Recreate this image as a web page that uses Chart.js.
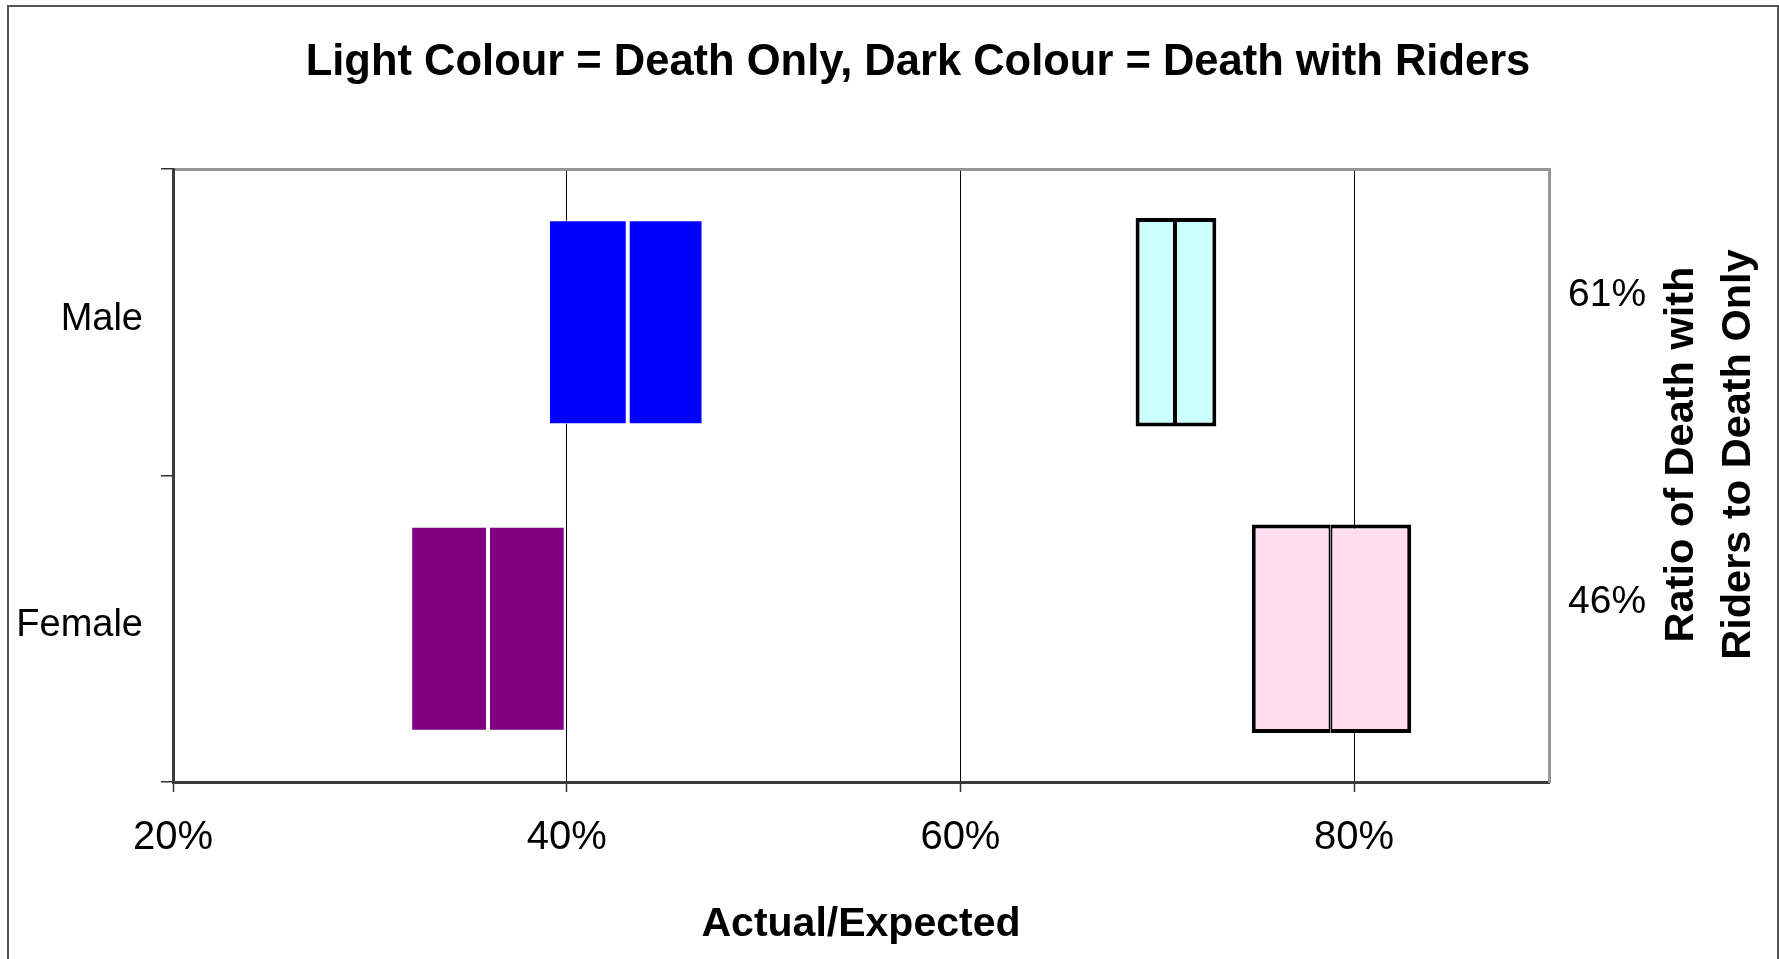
<!DOCTYPE html>
<html>
<head>
<meta charset="utf-8">
<title>Actual/Expected – Death Only vs Death with Riders</title>
<script src="https://cdn.jsdelivr.net/npm/chart.js@4.4.0/dist/chart.umd.min.js"></script>
<style>
  html, body { margin: 0; padding: 0; background: #fff; }
  #wrap { position: relative; width: 1779px; height: 959px; overflow: hidden; }
  #frame { position: absolute; left: 7px; top: 5px; width: 1772px; height: 1000px;
           border: 2px solid #555; box-sizing: border-box; }
  canvas { position: absolute; left: 0; top: 0; }
</style>
</head>
<body>
<div id="wrap">
  <div id="frame"></div>
  <canvas id="chart" width="1779" height="959"></canvas>
</div>
<script>
// Categories and interval values (Actual/Expected, %)
const categories = ['Male', 'Female'];

// Dark colour: death with riders – lower bound, central estimate, upper bound
const ridersLow  = [39.1, 32.1];
const ridersMid  = [43.1, 36.0];
const ridersHigh = [46.9, 39.9];

// Light colour: death only – lower bound, central estimate, upper bound
const onlyLow  = [68.9, 74.8];
const onlyMid  = [70.9, 78.8];
const onlyHigh = [73.0, 82.9];

// Ratio of death with riders to death only, shown on the right
const ratioLabels = ['61%', '46%'];

// Value axis
const xTickValues = [20, 40, 60, 80];
const xMin = 20;
const xMax = 89.9;

const chartTitle = 'Light Colour = Death Only, Dark Colour = Death with Riders';
const xTitle = 'Actual/Expected';
const rightTitleLines = ['Ratio of Death with', 'Riders to Death Only'];

const darkColours  = ['#0000FF', '#800080'];
const lightColours = ['#CCFFFF', '#FFDDEE'];

const FONT = "'Liberation Sans', Arial, Helvetica, sans-serif";

function span(lo, hi) { return lo.map((v, i) => [v, hi[i]]); }

const barCommon = {
  grouped: false,
  borderSkipped: false,
  categoryPercentage: 1
};

// Title and the right-hand rotated axis title
const textLayer = {
  id: 'textLayer',
  afterDraw(chart) {
    const ctx = chart.ctx;
    const area = chart.chartArea;
    ctx.save();
    ctx.fillStyle = '#000';
    ctx.textAlign = 'center';
    ctx.textBaseline = 'alphabetic';
    ctx.font = 'bold 43.5px ' + FONT;
    ctx.fillText(chartTitle, 918, 75);

    ctx.font = 'bold 41.5px ' + FONT;
    const baselines = [area.right + 144, area.right + 201];
    const midY = (area.top + area.bottom) / 2 - 21;
    rightTitleLines.forEach((line, i) => {
      ctx.save();
      ctx.translate(baselines[i], midY);
      ctx.rotate(-Math.PI / 2);
      ctx.fillText(line, 0, 0);
      ctx.restore();
    });
    ctx.restore();
  }
};

new Chart(document.getElementById('chart'), {
  type: 'bar',
  data: {
    labels: categories,
    datasets: [
      { label: 'Death with Riders (lower)', data: span(ridersLow, ridersMid),
        backgroundColor: darkColours, borderColor: '#FFFFFF', barPercentage: 0.665,
        borderWidth: { top: 1, bottom: 1, left: 1, right: 2 }, ...barCommon },
      { label: 'Death with Riders (upper)', data: span(ridersMid, ridersHigh),
        backgroundColor: darkColours, borderColor: '#FFFFFF', barPercentage: 0.665,
        borderWidth: { top: 1, bottom: 1, left: 2, right: 1 }, ...barCommon },
      { label: 'Death Only (lower)', data: span(onlyLow, onlyMid),
        backgroundColor: lightColours, borderColor: '#000000', barPercentage: 0.68,
        borderWidth: { top: 4, bottom: 4, left: 4, right: 2 }, ...barCommon },
      { label: 'Death Only (upper)', data: span(onlyMid, onlyHigh),
        backgroundColor: lightColours, borderColor: '#000000', barPercentage: 0.68,
        borderWidth: { top: 4, bottom: 4, left: 2, right: 4 }, ...barCommon }
    ]
  },
  options: {
    indexAxis: 'y',
    responsive: false,
    animation: false,
    devicePixelRatio: 1,
    layout: { padding: { top: 169, left: 0, right: 0, bottom: 0 } },
    plugins: {
      legend: { display: false },
      tooltip: { enabled: false },
      title: { display: false }
    },
    scales: {
      x: {
        type: 'linear',
        position: 'bottom',
        min: xMin,
        max: xMax,
        afterBuildTicks: (scale) => { scale.ticks = xTickValues.map(v => ({ value: v })); },
        afterFit: (scale) => { scale.height = 177; },
        grid: { color: '#000', lineWidth: 1, drawTicks: true, tickLength: 10,
                tickColor: '#333', tickWidth: 1.5 },
        border: { display: true, color: '#3a3a3a', width: 3 },
        ticks: {
          color: '#000', padding: 22,
          font: { family: FONT, size: 40, lineHeight: 1.2 },
          callback: (v) => v + '%'
        },
        title: {
          display: true, text: xTitle, color: '#000',
          font: { family: FONT, size: 41, weight: 'bold', lineHeight: 1.2 },
          padding: { top: 0, bottom: 10 }
        }
      },
      x2: {
        type: 'linear',
        axis: 'x',
        position: 'top',
        min: xMin,
        max: xMax,
        afterFit: (scale) => { scale.height = 0; },
        grid: { display: true, drawOnChartArea: false, drawTicks: false },
        border: { display: true, color: '#969696', width: 3 },
        ticks: { display: false }
      },
      y: {
        type: 'category',
        position: 'left',
        offset: true,
        afterFit: (scale) => { scale.width = 173; },
        grid: { offset: true, drawOnChartArea: false, drawTicks: true, tickLength: 12,
                color: '#333', lineWidth: 1.5 },
        border: { display: true, color: '#3a3a3a', width: 3 },
        ticks: {
          color: '#000', padding: 18, labelOffset: -3,
          font: { family: FONT, size: 38, lineHeight: 1.2 }
        }
      },
      y2: {
        type: 'category',
        axis: 'y',
        position: 'right',
        labels: ratioLabels,
        offset: true,
        afterFit: (scale) => { scale.width = 230; },
        grid: { display: true, drawOnChartArea: false, drawTicks: false },
        border: { display: true, color: '#969696', width: 3 },
        ticks: {
          color: '#000', padding: 19, labelOffset: -27,
          font: { family: FONT, size: 39, lineHeight: 1.2 }
        }
      }
    }
  },
  plugins: [textLayer]
});
</script>
</body>
</html>
